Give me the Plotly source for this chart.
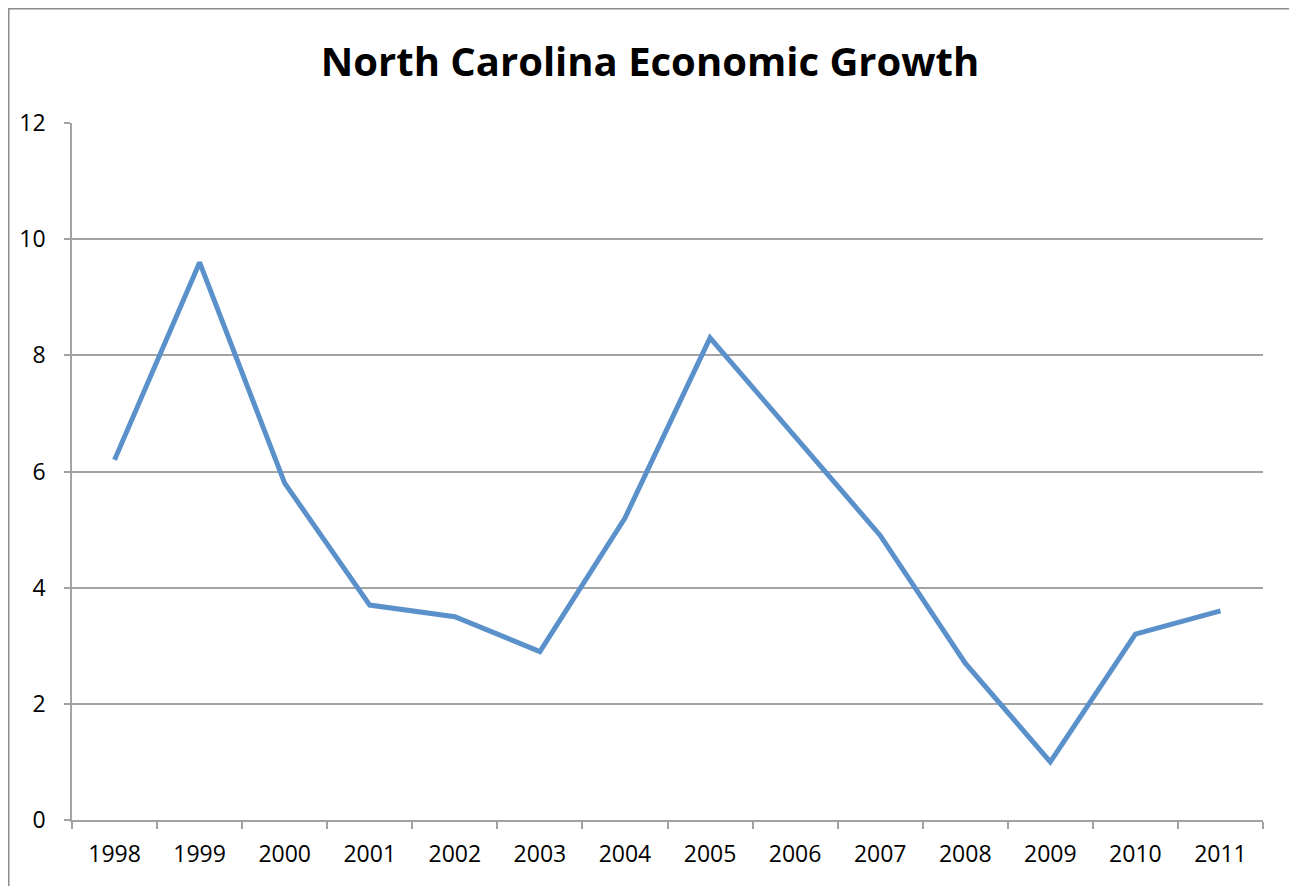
import plotly.graph_objects as go

years = ["1998", "1999", "2000", "2001", "2002", "2003", "2004",
         "2005", "2006", "2007", "2008", "2009", "2010", "2011"]
growth = [6.2, 9.6, 5.8, 3.7, 3.5, 2.9, 5.2, 8.3, 6.6, 4.9, 2.7, 1.0, 3.2, 3.6]
y_ticks = [0, 2, 4, 6, 8, 10, 12]

W, H = 1297, 886
OFF = 8  # page body offset
L, R, T, B = 72 - OFF, 34 + OFF, 123 - OFF, 66 + OFF
pw, ph = W - L - R, H - T - B
grid = "#a3a3a3"

fig = go.Figure()
fig.add_trace(go.Scatter(
    x=years, y=growth, mode="lines",
    line=dict(color="#5b91cb", width=5),
    showlegend=False, hoverinfo="x+y",
))

fig.update_layout(
    width=W, height=H,
    margin=dict(l=L, r=R, t=T, b=B, pad=0),
    paper_bgcolor="white", plot_bgcolor="white",
    font=dict(family="Open Sans, Liberation Sans, sans-serif", color="black", size=23),
    title=dict(text="<b>North Carolina Economic Growth</b>",
               font=dict(size=40, color="black"),
               x=(650 - OFF - L) / pw, xref="paper", xanchor="center",
               y=1 - (62 - OFF) / H, yanchor="middle"),
    xaxis=dict(
        type="category", range=[-0.5, 13.5],
        showline=True, linecolor=grid, linewidth=1.5,
        ticks="outside", ticklen=7, tickcolor=grid, tickwidth=1.5,
        tickson="boundaries", showgrid=False, zeroline=False,
        ticklabelstandoff=13,
    ),
    yaxis=dict(
        range=[0, 12], tickvals=y_ticks,
        showline=True, linecolor=grid, linewidth=1.5,
        ticks="outside", ticklen=6, tickcolor=grid, tickwidth=1.5,
        showgrid=True, gridcolor=grid, gridwidth=1.5,
        zeroline=False, ticklabelstandoff=14,
    ),
    shapes=[dict(
        type="rect", xref="paper", yref="paper",
        x0=(0.75 - L) / pw, x1=(W + 3 - L) / pw,
        y0=(H - B - (H - 2)) / ph, y1=(H - B - 0.75) / ph,
        line=dict(color="#8c8c8c", width=1.5), fillcolor="rgba(0,0,0,0)",
        layer="below",
    )],
)

fig.write_html("out.html")
